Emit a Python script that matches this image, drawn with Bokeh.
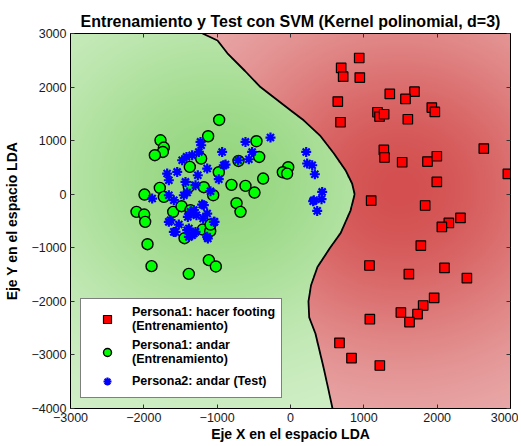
import numpy as np
from bokeh.plotting import figure
from bokeh.models import Range1d, LinearAxis, FixedTicker, Legend, LegendItem
from bokeh.embed import file_html
from bokeh.resources import INLINE

# ---- data ----
footing_x = [937, 691, 718, 945, 1354, 1691, 1568, 645, 1186, 1214, 1277, 1927, 1968, 1600, 682,
             2636, 1273, 1282, 1523, 1868, 1995, 2964, 1995, 1100, 1836, 2318, 2159, 2064, 1777,
             1077, 2100, 1614, 2405, 1959, 1809, 1505, 1732, 1623, 1082, 668, 832, 1218]
footing_y = [2543, 2357, 2195, 2177, 1872, 1915, 1778, 1729, 1530, 1449, 1493, 1618, 1536, 1399, 1343,
             852, 827, 685, 597, 610, 709, 379, 230, -118, -211, -442, -535, -610, -958,
             -1331, -1375, -1493, -1567, -1934, -2077, -2208, -2239, -2388, -2332, -2774, -3060, -3197]

andar_x = [-973, -1123, -1773, -1727, -1741, -1850, -1218, -1373, -978, -1782, -1991, -1182, -1054,
           -1387, -1727, -464, -427, -709, -31, -105, -46, -373, -805, -614, -491, -2100, -1995,
           -1982, -1600, -1486, -1364, -1445, -1196, -1095, -1091, -1950, -1895, -1114, -1018,
           -1387, -736, -682]
andar_y = [1386, 1082, 1007, 871, 789, 728, 666, 510, 410, 118, -6, 131, -19,
           136, -50, 989, 696, 621, 504, 410, 385, 292, 175, 155, 31, -329, -379,
           -516, -329, -224, -298, -821, -659, -690, -566, -933, -1343, -1231, -1349,
           -1487, -168, -329]

test_x = [-1218, -1227, -1250, -932, -1418, -1477, -1341, -1136, -1682, -1545, -1659, -1432, -1264,
          -978, -910, -1409, -1295, -1091, -1455, -1886, -1659, -614, -273, -523, -714, -568, -886,
          214, 227, 296, 332, 432, 318, 309, 423, 364, -1591, -1205, -1136, -1036, -1636, -1523,
          -1591, -1386, -1341, -1295, -1354, -1282, -1400, -1127, -1191, -1659, -1568, -1364,
          -1318, -1182, -1045, -1136, -1409, -1386, -1318]
test_y = [914, 976, 789, 789, 696, 634, 728, 479, 386, 416, 261, 230, 354,
          280, 541, 31, 168, 56, -19, -81, -19, 976, 1058, 789, 634, 653, 554,
          789, 573, 541, 373, 43, -112, -131, -93, -311, -112, -193, -361, -516, -485, -566,
          -703, -640, -765, -703, -361, -392, -423, -827, -454, -516, -703, -329,
          -298, -205, -516, -796, -672, -796, -733]

# decision boundary
bnd_x = [-1200, -995, -860, -620, -410, 0, 180, 400, 590, 750, 840, 875, 820, 682, 540,
         368, 280, 245, 255, 340, 450, 510, 573]
bnd_y = [3000, 2870, 2630, 2300, 2000, 1567, 1380, 1100, 765, 448, 200, 0, -300, -730, -1000,
         -1360, -1700, -2000, -2300, -2600, -3230, -3600, -4000]

x_ticks = [-3000, -2000, -1000, 0, 1000, 2000, 3000]
x_tick_labels = ["\u22123000", "\u22122000", "\u22121000", "0", "1000", "2000", "3000"]
y_ticks = [-4000, -3000, -2000, -1000, 0, 1000, 2000, 3000]
y_tick_labels = ["\u22124000", "\u22123000", "\u22122000", "\u22121000", "0", "1000", "2000", "3000"]

legend_labels = ["Persona1: hacer footing\n(Entrenamiento)",
                 "Persona1: andar\n(Entrenamiento)",
                 "Persona2: andar (Test)"]

title_text = "Entrenamiento y Test con SVM (Kernel polinomial, d=3)"
xlabel = "Eje X en el espacio LDA"
ylabel = "Eje Y en el espacio LDA"

FONT = "Liberation Sans"

p = figure(width=518, height=444, x_range=Range1d(-3000, 3000), y_range=Range1d(-4000, 3000),
           output_backend="svg", toolbar_location=None, title=title_text,
           min_border_left=70, min_border_right=8, min_border_top=33, min_border_bottom=36)

# ---- background decision-region shading ----
nx, ny = 300, 350
xs = np.linspace(-3000, 3000, nx)
ys = np.linspace(-4000, 3000, ny)
X, Y = np.meshgrid(xs, ys)
order = np.argsort(bnd_y)
BX = np.interp(Y, np.array(bnd_y)[order], np.array(bnd_x)[order])
left = X < BX
tg = np.exp(-(((X + 1000) ** 2) / (2 * 1700.0 ** 2) + ((Y - 300) ** 2) / (2 * 2100.0 ** 2)))
tr = np.exp(-(((X - 1500) ** 2) / (2 * 1800.0 ** 2) + ((Y - 100) ** 2) / (2 * 2300.0 ** 2)))
g_light = np.array([212, 240, 203]); g_dark = np.array([150, 215, 128])
r_light = np.array([236, 182, 182]); r_dark = np.array([212, 80, 80])
img = np.empty((ny, nx), dtype=np.uint32)
view = img.view(dtype=np.uint8).reshape((ny, nx, 4))
for c in range(3):
    gch = g_light[c] + tg * (g_dark[c] - g_light[c])
    rch = r_light[c] + tr * (r_dark[c] - r_light[c])
    view[:, :, c] = np.where(left, gch, rch).astype(np.uint8)
view[:, :, 3] = 255
p.image_rgba(image=[img], x=-3000, y=-4000, dw=6000, dh=7000)

p.line(bnd_x, bnd_y, line_color="black", line_width=1.8)

r_red = p.scatter(footing_x, footing_y, marker="square", size=9.5, fill_color="#ff0000",
                  line_color="black", line_width=1.2)
r_green = p.scatter(andar_x, andar_y, marker="circle", size=11, fill_color="#00ff00",
                    line_color="black", line_width=1.4)
r_blue = p.scatter(test_x, test_y, marker="asterisk", size=10, line_color="#0000ff",
                   line_width=2.2)

# ---- axes styling ----
p.grid.visible = False
p.outline_line_color = "black"
p.outline_line_width = 1

for ax, ticks, labels in ((p.xaxis[0], x_ticks, x_tick_labels), (p.yaxis[0], y_ticks, y_tick_labels)):
    ax.ticker = FixedTicker(ticks=ticks)
    ax.major_label_overrides = dict(zip(ticks, labels))
    ax.major_tick_in = 4
    ax.major_tick_out = 0
    ax.minor_tick_line_color = None
    ax.axis_line_color = "black"
    ax.major_tick_line_color = "#333333"
    ax.major_label_text_font = FONT
    ax.major_label_text_font_size = "12.5px"
    ax.major_label_text_color = "#1a1a1a"
    ax.axis_label_text_font = FONT
    ax.axis_label_text_font_size = "14px"
    ax.axis_label_text_font_style = "bold"
    ax.axis_label_text_color = "black"

p.xaxis.axis_label = xlabel
p.yaxis.axis_label = ylabel
p.xaxis.major_label_standoff = 4
p.xaxis.axis_label_standoff = 1
p.yaxis.major_label_standoff = 4
p.yaxis.axis_label_standoff = 8

top_ax = LinearAxis(ticker=FixedTicker(ticks=x_ticks),
                    major_label_overrides={t: "" for t in x_ticks},
                    major_tick_in=4, major_tick_out=0, minor_tick_line_color=None,
                    axis_line_color="black", major_tick_line_color="#333333",
                    major_label_standoff=0, major_label_text_font_size="0px")
right_ax = LinearAxis(ticker=FixedTicker(ticks=y_ticks),
                      major_label_overrides={t: "" for t in y_ticks},
                      major_tick_in=4, major_tick_out=0, minor_tick_line_color=None,
                      axis_line_color="black", major_tick_line_color="#333333",
                      major_label_standoff=0, major_label_text_font_size="0px")
p.add_layout(top_ax, "above")
p.add_layout(right_ax, "right")

p.title.text_font = FONT
p.title.text_font_size = "16px"
p.title.text_font_style = "bold"
p.title.align = "center"
p.title.text_color = "black"
p.title.standoff = 8

legend = Legend(items=[LegendItem(label=legend_labels[0], renderers=[r_red]),
                       LegendItem(label=legend_labels[1], renderers=[r_green]),
                       LegendItem(label=legend_labels[2], renderers=[r_blue])],
                location="bottom_left")
legend.margin = 10
legend.padding = 6
legend.spacing = 5
legend.label_standoff = 5
legend.glyph_width = 40
legend.label_text_font = FONT
legend.label_text_font_size = "12.5px"
legend.label_text_font_style = "bold"
legend.label_text_line_height = 1.12
legend.label_text_color = "black"
legend.border_line_color = "black"
legend.border_line_width = 1
legend.background_fill_color = "white"
legend.background_fill_alpha = 1
p.add_layout(legend)

open("out.html", "w").write(file_html(p, INLINE))
